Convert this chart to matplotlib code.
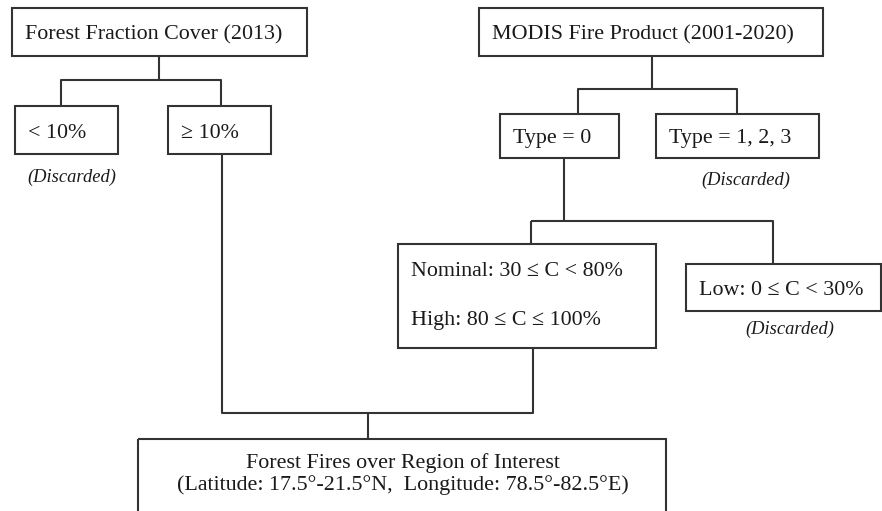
import matplotlib
matplotlib.use("Agg")
import matplotlib.pyplot as plt
from matplotlib.patches import Rectangle

# textes des boites
box_labels = ["Forest Fraction Cover (2013)", "< 10%", "\u2265 10%",
              "MODIS Fire Product (2001-2020)", "Type = 0", "Type = 1, 2, 3",
              "Low: 0 \u2264 C < 30%"]
confidence_labels = ["Nominal: 30 \u2264 C < 80%", "High: 80 \u2264 C \u2264 100%"]
final_labels = ["Forest Fires over Region of Interest",
                "(Latitude: 17.5\u00b0-21.5\u00b0N,  Longitude: 78.5\u00b0-82.5\u00b0E)"]
discarded_label = "(Discarded)"

FONT = ["Liberation Serif", "DejaVu Serif"]
LINE = "#333333"
SIZE = 15.8

fig = plt.figure(figsize=(8.82, 5.11), dpi=100)
ax = fig.add_axes([0, 0, 1, 1])
ax.set_xlim(0, 882)
ax.set_ylim(511, 0)
ax.axis("off")


def box(x0, y0, x1, y1):
    ax.add_patch(Rectangle((x0, y0), x1 - x0, y1 - y0, fill=False,
                           edgecolor=LINE, lw=1.5))


def line(xs, ys):
    ax.plot(xs, ys, color=LINE, lw=1.5, solid_capstyle="butt")


def label(x, y, s, size=SIZE, ha="left", style="normal"):
    ax.text(x, y, s, fontsize=size, family=FONT, ha=ha, va="center",
            style=style, color="#1a1a1a")


# geometrie des boites (pixels)
layout = [
    (12, 8, 307, 56),     # forest fraction
    (15, 106, 118, 154),  # < 10%
    (168, 106, 271, 154), # >= 10%
    (479, 8, 823, 56),    # MODIS
    (500, 114, 619, 158), # type 0
    (656, 114, 819, 158), # type 1,2,3
    (686, 264, 881, 311), # low
]
for (x0, y0, x1, y1), s in zip(layout, box_labels):
    box(x0, y0, x1, y1)
    label(x0 + 13, (y0 + y1) / 2 + 3, s)

# boite confiance
box(398, 244, 656, 348)
label(411, 272, confidence_labels[0])
label(411, 320, confidence_labels[1])

# boite finale
box(138, 439, 666, 530)
label(403, 463, final_labels[0], ha="center")
label(403, 485, final_labels[1], ha="center")

# mentions "Discarded"
for x, y in [(72, 177), (746, 180), (790, 329)]:
    label(x, y, discarded_label, size=13.3, ha="center", style="italic")

# connecteurs
line([159, 159], [56, 80])
line([61, 61, 221, 221], [106, 80, 80, 106])
line([652, 652], [56, 89])
line([578, 578, 737, 737], [114, 89, 89, 114])
line([564, 564], [158, 221])
line([531, 531], [244, 221])
line([531, 773, 773], [221, 221, 264])
line([222, 222, 533, 533], [154, 413, 413, 348])
line([368, 368], [413, 439])

fig.savefig("out.png", dpi=100, facecolor="white")
